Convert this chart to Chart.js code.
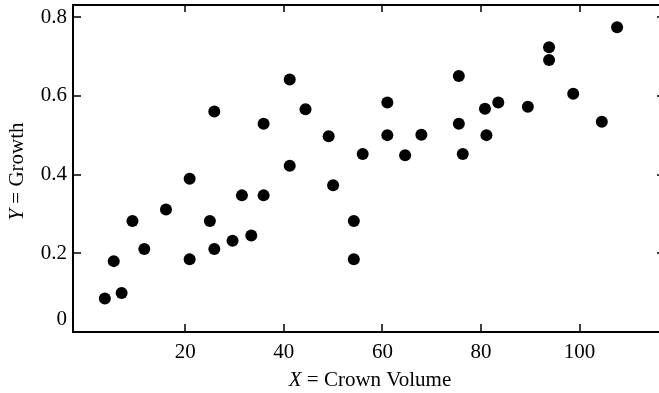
<!DOCTYPE html>
<html>
<head>
<meta charset="utf-8">
<script src="https://cdn.jsdelivr.net/npm/chart.js@4.4.1/dist/chart.umd.min.js"></script>
<style>
    body { margin: 0; background: #fff; }
    canvas { display: block; }
</style>
</head>
<body>
<canvas id="scatterChart" width="659" height="393"></canvas>
<script>
// crown volume (x) and growth (y)
var crownVolume = [3.7, 5.5, 7.1, 9.3, 11.7, 16.1, 20.9, 20.9, 25.0, 25.9, 25.9, 29.6, 31.5, 33.4, 35.9, 35.9, 41.2, 41.2, 44.4, 49.1,
    50.0, 54.2, 54.2, 56.0, 61.0, 61.0, 64.6, 67.9, 75.5, 75.5, 76.3, 80.8, 81.1, 83.5, 89.5, 93.8, 93.8, 98.7, 104.5, 107.6];
var growth = [0.085, 0.18, 0.099, 0.282, 0.211, 0.311, 0.389, 0.185, 0.282, 0.56, 0.211, 0.232, 0.347, 0.245, 0.529, 0.347, 0.641, 0.422, 0.566, 0.497,
    0.373, 0.282, 0.185, 0.452, 0.583, 0.5, 0.449, 0.501, 0.65, 0.529, 0.452, 0.567, 0.5, 0.583, 0.572, 0.723, 0.691, 0.605, 0.534, 0.774];
var xTickValues = [20, 40, 60, 80, 100];
var yTickValues = [0, 0.2, 0.4, 0.6, 0.8];

var fontFamily = "'Liberation Serif', 'DejaVu Serif', serif";
var fontSize = 21;

// draws the top frame line, the inward tick marks and the axis titles
var frameTicks = {
    id: "frameTicks",
    afterDraw: function (chart) {
        var ctx = chart.ctx;
        var a = chart.chartArea;
        var sx = chart.scales.x;
        var sy = chart.scales.y;
        ctx.save();
        ctx.strokeStyle = "#000";
        ctx.lineWidth = 2;
        ctx.beginPath();
        ctx.moveTo(a.left - 1, a.top);
        ctx.lineTo(a.right, a.top);
        ctx.stroke();

        ctx.lineWidth = 1.5;
        ctx.beginPath();
        xTickValues.forEach(function (v) {
            var px = Math.round(sx.getPixelForValue(v));
            ctx.moveTo(px, a.bottom);
            ctx.lineTo(px, a.bottom - 8);
            ctx.moveTo(px, a.top);
            ctx.lineTo(px, a.top + 7);
        });
        yTickValues.forEach(function (v) {
            if (v === 0) return;
            var py = Math.round(sy.getPixelForValue(v));
            ctx.moveTo(a.left, py);
            ctx.lineTo(a.left + 8, py);
            ctx.moveTo(a.right - 2, py);
            ctx.lineTo(a.right, py);
        });
        ctx.stroke();

        ctx.fillStyle = "#000";
        ctx.textBaseline = "middle";
        drawMixed(ctx, [["italic", "X"], ["normal", " = Crown Volume"]], (a.left + a.right) / 2 + 4, 380);
        ctx.translate(17, (a.top + a.bottom) / 2 + 3);
        ctx.rotate(-Math.PI / 2);
        drawMixed(ctx, [["italic", "Y"], ["normal", " = Growth"]], 0, 0);
        ctx.restore();
    },
};

function drawMixed(ctx, parts, cx, cy) {
    var total = 0;
    parts.forEach(function (p) {
        ctx.font = p[0] + " " + fontSize + "px " + fontFamily;
        total += ctx.measureText(p[1]).width;
    });
    var x = cx - total / 2;
    ctx.textAlign = "left";
    parts.forEach(function (p) {
        ctx.font = p[0] + " " + fontSize + "px " + fontFamily;
        ctx.fillText(p[1], x, cy);
        x += ctx.measureText(p[1]).width;
    });
}

var config_scatter = {
    type: "scatter",
    data: {
        datasets: [
            {
                data: crownVolume.map(function (x, i) {
                    return { x: x, y: growth[i] };
                }),
                pointRadius: 6,
                pointHoverRadius: 6,
                backgroundColor: "#000",
                borderColor: "#000",
                borderWidth: 0,
            },
        ],
    },
    options: {
        responsive: false,
        animation: false,
        layout: {
            autoPadding: false,
            padding: { top: 5, right: 0, left: 0, bottom: 0 },
        },
        scales: {
            x: {
                type: "linear",
                min: -2.76,
                max: 116.1,
                afterBuildTicks: function (scale) {
                    scale.ticks = xTickValues.map(function (v) {
                        return { value: v };
                    });
                },
                afterFit: function (scale) {
                    scale.height = 61;
                    scale.paddingLeft = 0;
                    scale.paddingRight = 0;
                },
                grid: {
                    display: false,
                    drawTicks: false,
                },
                border: {
                    display: true,
                    color: "#000",
                    width: 2,
                },
                ticks: {
                    padding: 8,
                    color: "#000",
                    maxRotation: 0,
                    font: {
                        family: fontFamily,
                        size: fontSize,
                    },
                },
            },
            y: {
                type: "linear",
                min: 0,
                max: 0.8305,
                afterBuildTicks: function (scale) {
                    scale.ticks = yTickValues.map(function (v) {
                        return { value: v };
                    });
                },
                afterFit: function (scale) {
                    scale.width = 73;
                    scale.paddingTop = 0;
                    scale.paddingBottom = 0;
                },
                grid: {
                    display: false,
                    drawTicks: false,
                },
                border: {
                    display: true,
                    color: "#000",
                    width: 2,
                },
                ticks: {
                    padding: 6,
                    color: "#000",
                    font: {
                        family: fontFamily,
                        size: fontSize,
                    },
                    callback: function (value) {
                        // the zero label sits a little above the axis line
                        return value === 0 ? ["0", ""] : value.toFixed(1);
                    },
                },
            },
        },
        plugins: {
            legend: { display: false },
            tooltip: { enabled: false },
        },
    },
    plugins: [frameTicks],
};

var scatterChart = new Chart("scatterChart", config_scatter);
</script>
</body>
</html>
